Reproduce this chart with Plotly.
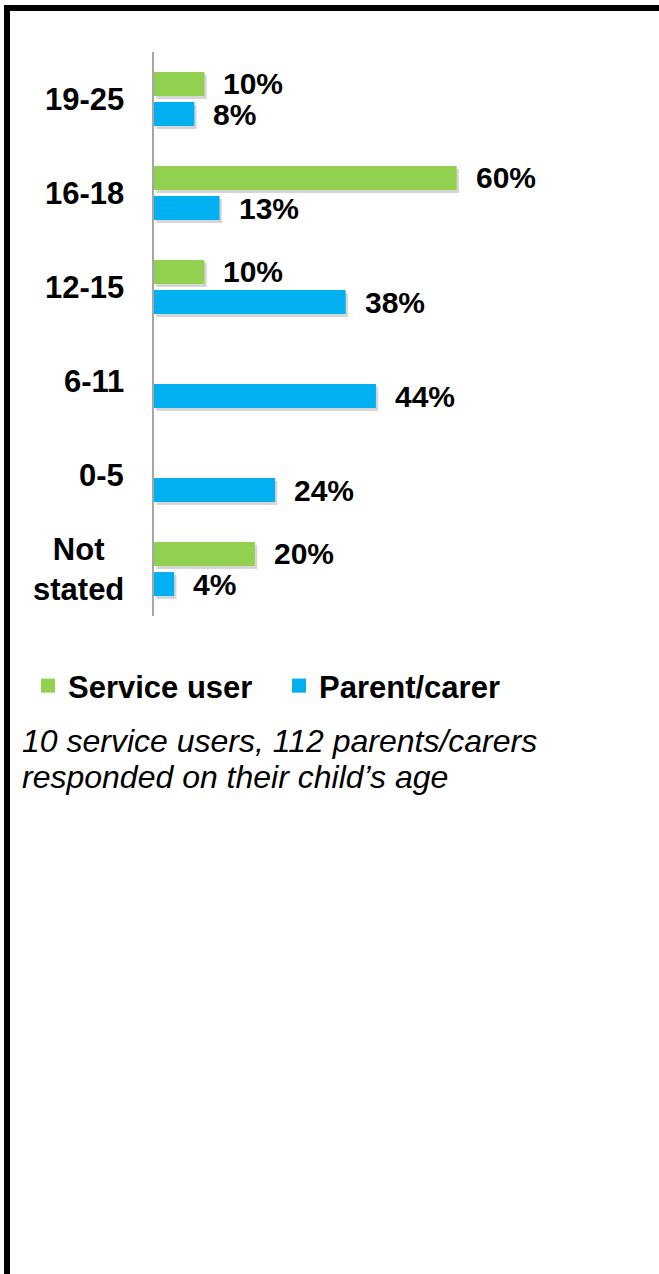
import plotly.graph_objects as go

# Age groups, top to bottom
age_groups = ["19-25", "16-18", "12-15", "6-11", "0-5", "Not<br>stated"]
service_user_pct = [10, 60, 10, 0, 0, 20]
parent_carer_pct = [8, 13, 38, 44, 24, 4]

series_names = ["Service user", "Parent/carer"]
caption_lines = ["10 service users, 112 parents/carers",
                 "responded on their child\u2019s age"]

GREEN = "#92D050"
BLUE = "#00B0F0"
FONT = "Liberation Sans, Arial, sans-serif"

# Canvas geometry (pixels)
W, H = 659, 1274
ML, MR, MT = 154, 51, 52
PW = W - ML - MR
PH = 564
MB = H - MT - PH


def px_x(px):
    return (px - ML) / PW


def px_y(py):
    return (H - MB - py) / PH


pos = list(range(len(age_groups)))
bar_w = 0.255
half_slot = 0.16
shadow_dy = 3 / 94
shadow_dx = 0.45

fig = go.Figure()

# Soft drop shadows under each bar
for vals, sign in ((service_user_pct, -1), (parent_carer_pct, 1)):
    ys = [p + sign * half_slot + shadow_dy for p, v in zip(pos, vals) if v > 0]
    xs = [v for v in vals if v > 0]
    fig.add_trace(go.Bar(
        x=xs, y=ys, base=shadow_dx, orientation="h", width=bar_w,
        marker=dict(color="rgba(0,0,0,0.16)", line=dict(width=0)),
        showlegend=False, hoverinfo="skip",
    ))

for name, vals, sign, color in ((series_names[0], service_user_pct, -1, GREEN),
                                (series_names[1], parent_carer_pct, 1, BLUE)):
    fig.add_trace(go.Bar(
        name=name, orientation="h", legendgroup=name, showlegend=False,
        x=vals, y=[p + sign * half_slot for p in pos], width=bar_w,
        marker=dict(color=color, line=dict(width=0)),
    ))
    # Legend entry with a square key
    fig.add_trace(go.Scatter(
        name=name, legendgroup=name, x=[None], y=[None], mode="markers",
        marker=dict(symbol="square", size=14, color=color, line=dict(width=0)),
        hoverinfo="skip",
    ))

annotations = []
# Value labels
for vals, sign in ((service_user_pct, -1), (parent_carer_pct, 1)):
    for p, v in zip(pos, vals):
        if v > 0:
            annotations.append(dict(
                x=v, y=p + sign * half_slot, xref="x", yref="y",
                text=f"{v}%", showarrow=False, xanchor="left", yanchor="middle",
                xshift=17, font=dict(family=FONT, size=30, color="#000000", weight="bold"),
            ))
# Category labels
for p, name in zip(pos, age_groups):
    annotations.append(dict(
        x=px_x(126), y=p, xref="paper", yref="y", text=name, showarrow=False,
        xanchor="right", yanchor="middle", align="center",
        font=dict(family=FONT, size=31, color="#000000", weight="bold"),
    ))
# Caption, one annotation per line
for line, cy in zip(caption_lines, (741, 777)):
    annotations.append(dict(
        x=px_x(20), y=px_y(cy), xref="paper", yref="paper", text=line,
        showarrow=False, xanchor="left", yanchor="middle", align="left",
        font=dict(family=FONT, size=32, color="#000000", style="italic"),
    ))

# Black frame on the top and left edges
shapes = [
    dict(type="rect", xref="paper", yref="paper", x0=px_x(4), x1=px_x(W + 2),
         y0=px_y(11), y1=px_y(5), fillcolor="#000000", line=dict(width=0), layer="above"),
    dict(type="rect", xref="paper", yref="paper", x0=px_x(4), x1=px_x(10),
         y0=px_y(H + 2), y1=px_y(5), fillcolor="#000000", line=dict(width=0), layer="above"),
]

fig.update_layout(
    width=W, height=H,
    margin=dict(l=ML, r=MR, t=MT, b=MB, pad=0),
    paper_bgcolor="#FFFFFF", plot_bgcolor="#FFFFFF",
    barmode="overlay",
    showlegend=True,
    legend=dict(
        orientation="h", x=px_x(28), y=px_y(686), xanchor="left", yanchor="middle",
        font=dict(family=FONT, size=31, color="#000000", weight="bold"),
        entrywidth=206, entrywidthmode="pixels", itemclick=False,
        bgcolor="rgba(0,0,0,0)", borderwidth=0,
    ),
    xaxis=dict(range=[0, 90], visible=False, fixedrange=True),
    yaxis=dict(
        range=[len(age_groups) - 0.5, -0.5], showticklabels=False, ticks="",
        showgrid=False, zeroline=False, showline=True, linecolor="#A6A6A6",
        linewidth=1.5, fixedrange=True,
    ),
    annotations=annotations,
    shapes=shapes,
)

fig.write_html("out.html")
